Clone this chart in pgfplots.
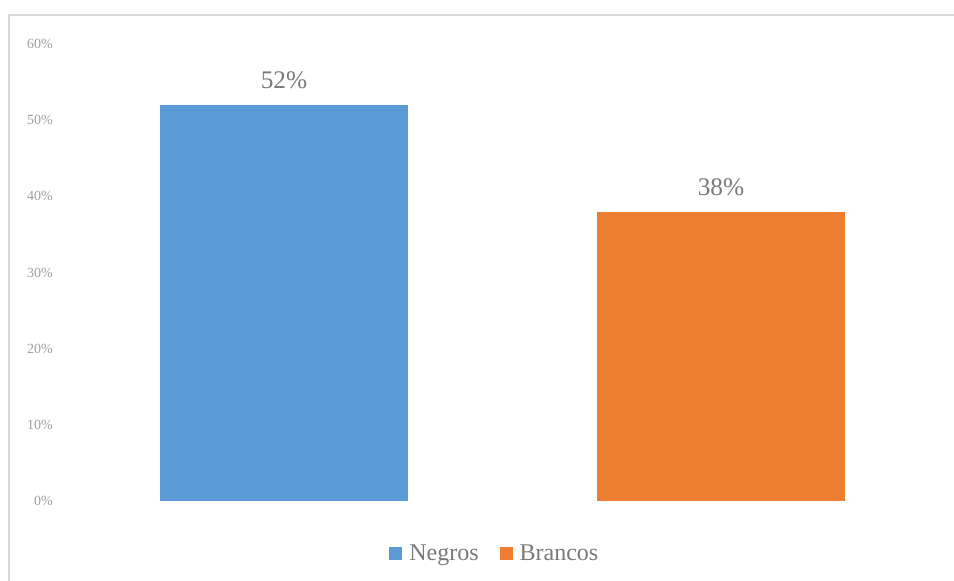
\documentclass[border=0pt]{standalone}
\usepackage{pgfplots}
\pgfplotsset{compat=1.18}
\usepackage{fontspec}
\setmainfont{Liberation Serif}
\newlength\px \setlength\px{0.75pt}
\definecolor{cblue}{HTML}{5B9BD5}
\definecolor{corange}{HTML}{ED7D31}
\definecolor{tickgray}{HTML}{A0A0A0}
\definecolor{labgray}{HTML}{7A7A7A}
\definecolor{framegray}{HTML}{D9D9D9}
\begin{document}
\begin{tikzpicture}
\path[use as bounding box] (0,0) rectangle (954\px,581\px);
\fill[white] (0,0) rectangle (954\px,581\px);
\draw[framegray, line width=1.5\px] (9\px,0) -- (9\px,566\px) -- (954\px,566\px);
\begin{axis}[
  at={(65.5\px,80\px)}, anchor=south west,
  scale only axis, width=874\px, height=457\px,
  xmin=-0.5, xmax=1.5, ymin=0, ymax=60,
  axis line style={draw=none},
  ybar, bar width=0.5675, bar shift=0pt,
  ytick={0,10,20,30,40,50,60},
  yticklabels={0\%,10\%,20\%,30\%,40\%,50\%,60\%},
  xtick=\empty,
  major tick length=0pt,
  tick style={draw=none},
  /pgf/number format/assume math mode=true,
  yticklabel style={font=\fontsize{10.5}{12}\selectfont, text=tickgray, inner sep=0pt, anchor=east, xshift=-12.5\px},
  nodes near coords={\pgfmathprintnumber[assume math mode=true]{\pgfplotspointmeta}\%},
  every node near coord/.append style={font=\fontsize{19}{22}\selectfont, text=labgray, anchor=base, inner sep=0pt, yshift=16\px},
  legend columns=2,
  legend style={at={(0.49,-0.114)}, anchor=center, draw=none, fill=none,
    font=\fontsize{18}{21}\selectfont, text=labgray,
    /tikz/every even column/.append style={column sep=21\px},
    inner sep=0pt, nodes={inner sep=0pt, text depth=0pt}},
  legend image code/.code={\fill[#1] (0pt,-6.5\px) rectangle (13\px,6.5\px);},
  legend cell align=left,
]
\addplot[fill=cblue, draw=none] coordinates {(0,52)};
\addlegendentry{\hspace{7\px}Negros}
\addplot[fill=corange, draw=none] coordinates {(1,38)};
\addlegendentry{\hspace{7\px}Brancos}
\end{axis}
\end{tikzpicture}
\end{document}
